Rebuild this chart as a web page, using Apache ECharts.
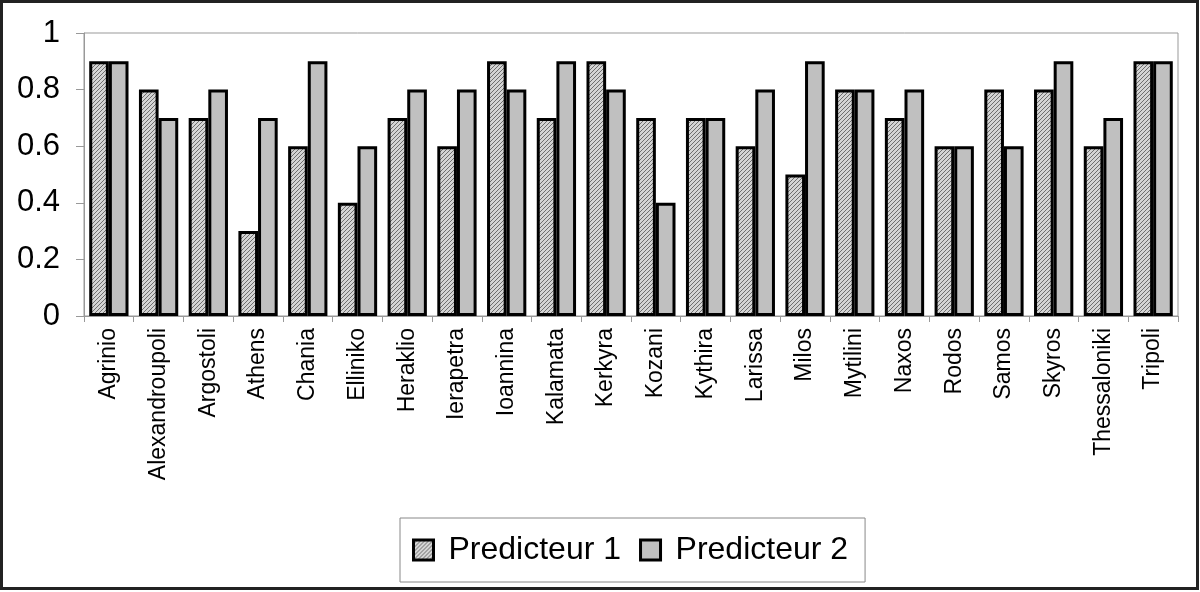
<!DOCTYPE html>
<html>
<head>
<meta charset="utf-8">
<script src="https://cdn.jsdelivr.net/npm/echarts@6/dist/echarts.min.js"></script>
<style>
  html, body { margin: 0; padding: 0; background: #fff; }
  #chart { width: 1200px; height: 592px; }
</style>
</head>
<body>
<div id="chart"></div>
<script>
(function() {
  var categories = ['Agrinio', 'Alexandroupoli', 'Argostoli', 'Athens', 'Chania', 'Elliniko',
    'Heraklio', 'Ierapetra', 'Ioannina', 'Kalamata', 'Kerkyra', 'Kozani', 'Kythira', 'Larissa',
    'Milos', 'Mytilini', 'Naxos', 'Rodos', 'Samos', 'Skyros', 'Thessaloniki', 'Tripoli'];
  var predicteur1 = [0.9, 0.8, 0.7, 0.3, 0.6, 0.4, 0.7, 0.6, 0.9, 0.7, 0.9, 0.7, 0.7, 0.6, 0.5, 0.8, 0.7, 0.6, 0.8, 0.8, 0.6, 0.9];
  var predicteur2 = [0.9, 0.7, 0.8, 0.7, 0.9, 0.6, 0.8, 0.8, 0.8, 0.9, 0.8, 0.4, 0.7, 0.8, 0.9, 0.8, 0.8, 0.6, 0.6, 0.9, 0.7, 0.9];
  var seriesNames = ['Predicteur 1', 'Predicteur 2'];

  // diagonal hatch for the first series
  var pat = document.createElement('canvas');
  pat.width = 4; pat.height = 4;
  var ctx = pat.getContext('2d');
  ctx.fillStyle = '#d4d4d4';
  ctx.fillRect(0, 0, 4, 4);
  ctx.strokeStyle = '#6e6e6e';
  ctx.lineWidth = 1;
  ctx.beginPath();
  ctx.moveTo(0, 4); ctx.lineTo(4, 0);
  ctx.moveTo(-1, 1); ctx.lineTo(1, -1);
  ctx.moveTo(3, 5); ctx.lineTo(5, 3);
  ctx.stroke();

  var font = 'Liberation Sans, Arial, sans-serif';
  var chart = echarts.init(document.getElementById('chart'));

  chart.setOption({
    animation: false,
    textStyle: { fontFamily: font },
    graphic: [{
      type: 'rect',
      shape: { x: 1.5, y: 1.5, width: 1196, height: 587 },
      style: { fill: 'none', stroke: '#222', lineWidth: 3 },
      silent: true
    }],
    legend: {
      data: seriesNames,
      icon: 'rect',
      left: 400,
      top: 518,
      padding: [16, 17, 16, 12],
      itemGap: 18,
      itemWidth: 20,
      itemHeight: 20,
      itemStyle: { borderColor: '#000', borderWidth: 3 },
      borderColor: '#888',
      borderWidth: 1,
      borderRadius: 0,
      textStyle: { fontSize: 32, lineHeight: 32, color: '#000', fontFamily: font, padding: [0, 0, 0, 10] }
    },
    grid: {
      left: 84, right: 22, top: 33, bottom: 276,
      show: true,
      borderColor: '#999',
      borderWidth: 1
    },
    xAxis: {
      type: 'category',
      data: categories,
      axisLine: { lineStyle: { color: '#999', width: 1 } },
      axisTick: { show: true, length: 6, lineStyle: { color: '#999' } },
      axisLabel: {
        rotate: 90,
        interval: 0,
        fontSize: 23,
        color: '#000',
        margin: 12
      }
    },
    yAxis: {
      type: 'value',
      min: 0, max: 1, interval: 0.2,
      splitLine: { show: false },
      axisLine: { show: true, lineStyle: { color: '#999' } },
      axisTick: { show: true, length: 8, lineStyle: { color: '#999' } },
      axisLabel: { fontSize: 31, color: '#000', margin: 24 }
    },
    series: [{
      name: seriesNames[0],
      type: 'bar',
      data: predicteur1,
      barGap: '0%',
      barCategoryGap: '21%',
      itemStyle: { color: { image: pat, repeat: 'repeat' }, borderColor: '#000', borderWidth: 3 }
    }, {
      name: seriesNames[1],
      type: 'bar',
      data: predicteur2,
      itemStyle: { color: '#c0c0c0', borderColor: '#000', borderWidth: 3 }
    }]
  });
})();
</script>
</body>
</html>
